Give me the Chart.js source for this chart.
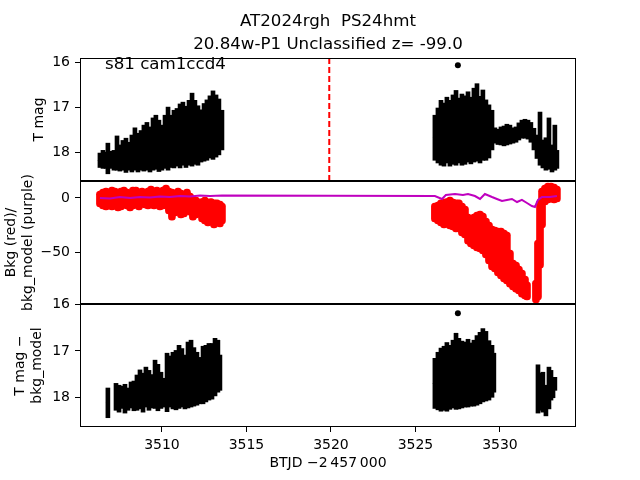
<!DOCTYPE html>
<html>
<head>
<meta charset="utf-8">
<script src="https://cdn.jsdelivr.net/npm/chart.js@4.4.1/dist/chart.umd.min.js"></script>
<style>
  html, body { margin: 0; padding: 0; background: #fff; }
  #wrap { position: relative; width: 640px; height: 480px; font-family: "DejaVu Sans", sans-serif; color: #000; }
  #wrap canvas { position: absolute; left: 0; top: 0; }
  #title { position: absolute; left: 0; top: 9px; width: 656px; text-align: center; font-size: 16.67px; line-height: 23px; white-space: pre; }
  #tag { position: absolute; left: 105px; top: 56px; font-size: 16.67px; line-height: 1; white-space: pre; }
</style>
</head>
<body>
<div id="wrap">
  <canvas id="magChart" width="640" height="480"></canvas>
  <canvas id="bkgChart" width="640" height="480"></canvas>
  <canvas id="corrChart" width="640" height="480"></canvas>
  <div id="title">AT2024rgh  PS24hmt
20.84w-P1 Unclassified z= -99.0</div>
  <div id="tag">s81 cam1ccd4</div>
</div>
<script>
// shared x range and ticks (BTJD - 2457000)
const xMin = 3505.15, xMax = 3534.50;
const xTicks = [3510, 3515, 3520, 3525, 3530];
const magTicks = [16, 17, 18];
const bkgTicks = [0, -50];
const discoveryT = 3519.9;

// panel 1: T mag with errors, first orbit
const tA = [3506.33,3506.51,3506.69,3506.80,3506.98,3507.16,3507.34,3507.51,3507.69,3507.87,3508.05,3508.22,3508.40,3508.58,3508.76,3508.93,3509.11,3509.29,3509.47,3509.64,3509.82,3510.00,3510.18,3510.36,3510.53,3510.71,3510.89,3511.07,3511.24,3511.42,3511.60,3511.78,3511.95,3512.13,3512.31,3512.49,3512.66,3512.84,3513.02,3513.20,3513.37,3513.55];
const magA = [18.18,18.16,18.18,18.14,18.17,18.18,18.02,18.13,18.07,18.07,18.09,18.03,17.93,18.01,17.96,17.91,17.87,17.94,17.82,17.78,17.86,17.90,17.77,17.70,17.76,17.71,17.67,17.64,17.59,17.66,17.57,17.50,17.56,17.63,17.64,17.56,17.51,17.44,17.40,17.42,17.44,17.51];
const errA = [0.16,0.20,0.18,0.34,0.19,0.22,0.38,0.29,0.33,0.38,0.31,0.41,0.47,0.43,0.44,0.51,0.53,0.50,0.58,0.60,0.57,0.50,0.59,0.70,0.58,0.64,0.64,0.71,0.70,0.68,0.72,0.81,0.71,0.66,0.58,0.64,0.67,0.69,0.76,0.69,0.62,0.44];
// second orbit
const tB = [3526.15,3526.33,3526.51,3526.69,3526.86,3527.04,3527.22,3527.40,3527.57,3527.75,3527.93,3528.11,3528.28,3528.46,3528.64,3528.82,3528.99,3529.17,3529.35,3529.53,3529.70,3529.88,3530.06,3530.24,3530.41,3530.59,3530.77,3530.95,3531.12,3531.30,3531.48,3531.66,3531.83,3532.01,3532.19,3532.37,3532.54,3532.72,3532.90,3533.08,3533.25,3533.37];
const magB = [17.68,17.63,17.57,17.61,17.51,17.58,17.50,17.46,17.52,17.50,17.51,17.44,17.52,17.40,17.34,17.50,17.40,17.51,17.54,17.51,17.63,17.66,17.64,17.64,17.61,17.61,17.63,17.61,17.54,17.49,17.48,17.50,17.56,17.71,17.88,17.70,18.04,18.04,17.81,18.14,17.90,18.16];
const errB = [0.50,0.61,0.72,0.70,0.73,0.73,0.77,0.83,0.72,0.79,0.76,0.78,0.74,0.82,0.86,0.74,0.78,0.67,0.59,0.44,0.17,0.17,0.20,0.22,0.23,0.21,0.17,0.17,0.19,0.20,0.21,0.21,0.22,0.24,0.26,0.59,0.31,0.36,0.57,0.30,0.50,0.20];
const tOut = [3527.51], magOut = [16.07];

// panel 2: background (red) range per bin, and bkg model (purple)
const tBkgA = [3506.33,3506.51,3506.69,3506.86,3507.04,3507.22,3507.40,3507.57,3507.75,3507.93,3508.11,3508.28,3508.46,3508.64,3508.82,3508.99,3509.17,3509.35,3509.53,3509.70,3509.88,3510.06,3510.24,3510.41,3510.59,3510.77,3510.95,3511.12,3511.30,3511.48,3511.66,3511.83,3512.01,3512.19,3512.37,3512.54,3512.72,3512.90,3513.08,3513.25,3513.43,3513.55];
const bkgHiA = [6.4,8.3,9.2,7.4,10.1,9.2,7.4,9.2,10.1,8.3,7.4,10.1,10.1,8.3,9.2,7.4,9.2,11.0,9.2,10.1,7.4,10.1,12.0,9.2,8.3,6.4,9.2,7.4,4.6,8.3,4.6,1.8,0.9,-0.9,0,0.9,-0.9,0,-1.8,-1.8,-2.8,-4.6];
const bkgLoA = [-8.3,-10.1,-11.0,-9.2,-11.0,-10.1,-12.0,-11.0,-9.2,-10.1,-12.0,-10.1,-9.2,-11.0,-8.3,-9.2,-10.1,-9.2,-10.1,-8.3,-11.0,-10.1,-9.2,-14.7,-20.3,-16.6,-12.9,-18.4,-17.5,-13.8,-15.7,-20.3,-18.4,-14.7,-22.1,-23.9,-25.8,-24.9,-27.6,-22.1,-26.7,-23.9];
const tBkgB = [3526.15,3526.33,3526.51,3526.69,3526.86,3527.04,3527.22,3527.40,3527.57,3527.75,3527.93,3528.11,3528.28,3528.46,3528.64,3528.82,3528.99,3529.17,3529.35,3529.53,3529.70,3529.88,3530.06,3530.24,3530.41,3530.59,3530.77,3530.95,3531.12,3531.30,3531.48,3531.60,3532.13,3532.25,3532.37,3532.49,3532.66,3532.84,3533.02,3533.20,3533.37];
const bkgHiB = [-4.6,-3.7,-1.8,-0.9,0,0.9,-0.9,-1.8,-1.8,-4.6,-7.4,-14.7,-18.4,-14.7,-12.9,-12.0,-13.8,-18.4,-22.1,-25.8,-26.7,-27.6,-27.6,-29.5,-31.3,-47.9,-57.1,-58.9,-62.6,-66.3,-71.8,-77.3,-75.5,-38.7,-1.8,9.2,12.0,13.8,13.8,12.9,11.0];
const bkgLoB = [-22.1,-23.9,-25.8,-27.6,-26.7,-28.5,-29.5,-31.3,-31.3,-35.0,-36.8,-42.4,-45.1,-47.0,-48.8,-49.7,-51.6,-55.2,-60.8,-66.3,-68.1,-71.8,-74.6,-77.3,-79.2,-82.0,-84.7,-86.6,-88.4,-91.2,-93.0,-93.9,-96.7,-93.9,-64.5,-27.6,-6.4,-4.6,-3.7,-4.6,-3.7];
const tModel = [3506.33,3506.92,3507.51,3508.11,3508.70,3509.29,3509.88,3510.47,3511.07,3511.66,3512.25,3512.84,3513.55,3526.15,3526.57,3526.80,3527.34,3527.81,3528.11,3528.52,3528.82,3529.11,3529.53,3529.82,3530.12,3530.41,3530.71,3531.01,3531.30,3531.60,3531.89,3532.07,3532.25,3532.49,3532.96,3533.37];
const bkgModel = [0,-0.5,0.9,0,0.9,0.5,1.4,0.9,1.8,1.4,2.3,1.8,2.3,1.8,-0.9,2.8,3.7,2.8,3.7,1.8,-0.9,3.7,0.9,-0.9,-2.8,-1.8,-0.9,-3.7,-1.8,-4.6,-7.4,-8.3,-1.8,0.9,0.9,1.8];

// panel 3: T mag - bkg_model
const tCA = [3506.80,3507.28,3507.46,3507.63,3507.81,3507.99,3508.17,3508.34,3508.52,3508.70,3508.88,3509.05,3509.23,3509.41,3509.59,3509.76,3509.94,3510.12,3510.30,3510.47,3510.65,3510.83,3511.01,3511.18,3511.36,3511.54,3511.72,3511.89,3512.07,3512.25,3512.43,3512.60,3512.78,3512.96,3513.14,3513.31,3513.43];
const magCA = [18.12,17.99,18.03,18.00,18.03,18.04,17.95,17.97,17.90,17.83,17.90,17.78,17.85,17.87,17.72,17.79,17.85,17.90,17.68,17.66,17.64,17.63,17.56,17.58,17.67,17.52,17.49,17.56,17.60,17.64,17.52,17.49,17.45,17.44,17.35,17.33,17.47];
const errCA = [0.32,0.29,0.29,0.24,0.31,0.24,0.28,0.32,0.38,0.42,0.42,0.43,0.43,0.36,0.52,0.50,0.39,0.31,0.63,0.55,0.61,0.64,0.68,0.63,0.58,0.71,0.72,0.63,0.57,0.50,0.62,0.61,0.61,0.60,0.62,0.56,0.38];
const tCB = [3526.15,3526.33,3526.51,3526.69,3526.86,3527.04,3527.22,3527.40,3527.57,3527.75,3527.93,3528.11,3528.28,3528.46,3528.64,3528.82,3528.99,3529.17,3529.35,3529.53,3529.64];
const magCB = [17.70,17.65,17.62,17.59,17.56,17.57,17.50,17.44,17.49,17.51,17.51,17.48,17.51,17.48,17.42,17.37,17.31,17.33,17.42,17.44,17.47];
const errCB = [0.54,0.62,0.68,0.69,0.74,0.69,0.73,0.82,0.76,0.72,0.70,0.73,0.68,0.71,0.75,0.77,0.79,0.75,0.64,0.56,0.42];
const tCC = [3532.25,3532.43,3532.54,3532.72,3532.90,3533.02,3533.14,3533.25];
const magCC = [17.82,17.88,17.89,18.07,17.80,17.74,17.80,17.71];
const errCC = [0.52,0.40,0.43,0.33,0.45,0.32,0.21,0.14];
const tCorrOut = [3527.51], magCorrOut = [16.19];

const FONT = "'DejaVu Sans', sans-serif";

function fmtNum(v) {
  return v < 0 ? "\u2212" + Math.abs(v) : String(v);
}

function errBars(t, m, e) {
  return {
    type: "bar",
    data: t.map((x, i) => ({ x: x, y: [m[i] - e[i], m[i] + e[i]] })),
    backgroundColor: "#000", borderWidth: 0, barThickness: 4, grouped: false, order: 3
  };
}

function markers(t, m, r) {
  return {
    type: "scatter",
    data: t.map((x, i) => ({ x: x, y: m[i] })),
    backgroundColor: "#000", borderWidth: 0, pointRadius: r, order: 2
  };
}

function rangeBars(t, hi, lo, color) {
  return {
    type: "bar",
    data: t.map((x, i) => ({ x: x, y: [lo[i], hi[i]] })),
    backgroundColor: color, borderWidth: 0, barThickness: 7, borderRadius: 3.5,
    borderSkipped: false, grouped: false, order: 3
  };
}

function yAxis(min, max, ticks, reverse, title, titlePad) {
  return {
    type: "linear", min: min, max: max, reverse: reverse,
    afterBuildTicks: s => { s.ticks = ticks.map(v => ({ value: v })); },
    afterFit: s => { s.width = 80; },
    ticks: { color: "#000", font: { family: FONT, size: 14 }, padding: 5, callback: v => fmtNum(v) },
    grid: { drawOnChartArea: false, drawTicks: true, tickLength: 5, tickColor: "#000", tickWidth: 1 },
    border: { display: false },
    title: { display: true, text: title, color: "#000", font: { family: FONT, size: 14, lineHeight: 1.2 }, padding: { top: titlePad, bottom: 0 } }
  };
}

function xAxis(show) {
  const ax = {
    type: "linear", min: xMin, max: xMax, offset: false, display: show,
    grid: { drawOnChartArea: false, drawTicks: true, tickLength: 5, tickColor: "#000", offset: false },
    border: { display: false }
  };
  if (show) {
    ax.afterBuildTicks = s => { s.ticks = xTicks.map(v => ({ value: v })); };
    ax.afterFit = s => { s.height = 53; };
    ax.ticks = { color: "#000", font: { family: FONT, size: 14 }, padding: 5, maxRotation: 0, callback: v => String(v) };
    ax.title = { display: true, text: "BTJD \u22122\u2009457\u2009000", color: "#000", font: { family: FONT, size: 14, lineHeight: 1.2 }, padding: { top: 0, bottom: 8 } };
  }
  return ax;
}

const frame = {
  id: "frame",
  afterDraw(chart) {
    const a = chart.chartArea, ctx = chart.ctx;
    ctx.save();
    ctx.strokeStyle = "#000";
    ctx.lineWidth = 1;
    ctx.strokeRect(Math.round(a.left) + 0.5, Math.round(a.top) + 0.5, Math.round(a.right - a.left) - 1, Math.round(a.bottom - a.top) - 1);
    ctx.restore();
  }
};

function makePanel(id, padTop, padBottom, yScale, datasets, showX) {
  return new Chart(document.getElementById(id), {
    type: "bar",
    data: { datasets: datasets },
    options: {
      responsive: false, animation: false, devicePixelRatio: 1,
      layout: { padding: { top: padTop, bottom: padBottom, left: 0, right: 64 } },
      plugins: { legend: { display: false }, tooltip: { enabled: false } },
      scales: { x: xAxis(showX), y: yScale }
    },
    plugins: [frame]
  });
}

makePanel("magChart", 58, 299, yAxis(15.91, 18.64, magTicks, true, "T mag", 31), [
  {
    type: "line",
    data: [{ x: discoveryT, y: 15.91 }, { x: discoveryT, y: 18.64 }],
    borderColor: "#ff0000", borderWidth: 2, borderDash: [6, 3], pointRadius: 0, order: 0
  },
  errBars(tA, magA, errA),
  errBars(tB, magB, errB),
  markers(tA, magA, 2),
  markers(tB, magB, 2),
  markers(tOut, magOut, 3)
], false);

makePanel("bkgChart", 181, 176, yAxis(-97.6, 15.65, bkgTicks, false, ["Bkg (red)/", "bkg_model (purple)"], 3), [
  {
    type: "line",
    data: tModel.map((x, i) => ({ x: x, y: bkgModel[i] })),
    borderColor: "#bf00bf", borderWidth: 2, pointRadius: 0, tension: 0, order: 0
  },
  rangeBars(tBkgA, bkgHiA, bkgLoA, "#ff0000"),
  rangeBars(tBkgB, bkgHiB, bkgLoB, "#ff0000")
], false);

makePanel("corrChart", 304, 0, yAxis(15.99, 18.64, magTicks, true, ["T mag \u2212", "bkg_model"], 12), [
  errBars(tCA, magCA, errCA),
  errBars(tCB, magCB, errCB),
  errBars(tCC, magCC, errCC),
  markers(tCA, magCA, 2),
  markers(tCB, magCB, 2),
  markers(tCC, magCC, 2),
  markers(tCorrOut, magCorrOut, 3)
], true);
</script>
</body>
</html>
